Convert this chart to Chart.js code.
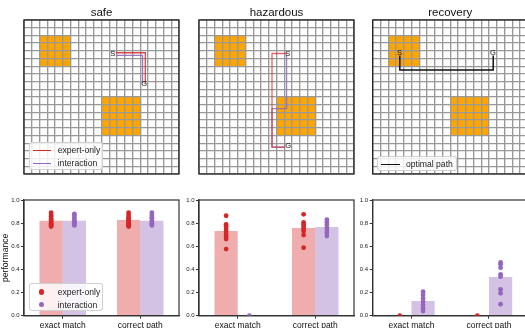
<!DOCTYPE html>
<html>
<head>
<meta charset="utf-8">
<script src="https://cdn.jsdelivr.net/npm/chart.js@4.4.1/dist/chart.umd.min.js"></script>
<style>
html, body { margin: 0; padding: 0; background: #fff; }
body { position: relative; width: 525px; height: 328px; overflow: hidden; font-family: 'Liberation Sans', Arial, sans-serif; }
canvas { position: absolute; left: 0; top: 0; }
.legend { position: absolute; box-sizing: border-box; background: rgba(255,255,255,0.82); border: 1px solid rgba(204,204,204,0.9); border-radius: 3px; font-size: 8.6px; color: #222; }
.legend .mark { position: absolute; }
.legend .txt { position: absolute; white-space: nowrap; line-height: 10px; margin-top: -5px; }
</style>
</head>
<body>
<canvas id="g0" width="540" height="328"></canvas>
<canvas id="g1" width="540" height="328"></canvas>
<canvas id="g2" width="540" height="328"></canvas>
<canvas id="b0" width="540" height="328"></canvas>
<canvas id="b1" width="540" height="328"></canvas>
<canvas id="b2" width="540" height="328"></canvas>
<canvas id="d0" width="540" height="328"></canvas>
<canvas id="d1" width="540" height="328"></canvas>
<canvas id="d2" width="540" height="328"></canvas>

<script>
// ---- data ----
const scenarios = ['safe', 'hazardous', 'recovery'];
const seriesNames = ['expert-only', 'interaction'];
const optimalName = 'optimal path';

// 20x20 grid world, hazard blocks in cell units [x0, y0, x1, y1]
const gridCells = 20;
const hazardSmall = [2, 2, 6, 6];
const hazardLarge = [10, 10, 15, 15];

// paths (cell coords, y down)
const safeExpertPath = [[11.85, 4.25], [15.65, 4.25], [15.65, 8.2]];
const safeInteractionPath = [[11.85, 4.6], [15.3, 4.6], [15.3, 8.2]];
const hazExpertPath = [[11.3, 4.35], [9.42, 4.35], [9.42, 16.5], [11.1, 16.5]];
const hazInteractionPath = [[11.3, 4.5], [11.3, 11.5], [9.42, 11.5], [9.42, 16.5], [11.1, 16.5]];
const recoveryOptimalPath = [[3.5, 4.6], [3.5, 6.5], [15.55, 6.5], [15.55, 4.6]];

// start / goal markers
const safeMarks = [['S', 11.45, 4.4], ['G', 15.5, 8.3]];
const hazMarks = [['S', 11.45, 4.35], ['G', 11.5, 16.4]];
const recoveryMarks = [['S', 3.45, 4.3], ['G', 15.5, 4.3]];

// performance bars
const metrics = ['exact match', 'correct path'];
const yTicks = [0, 0.2, 0.4, 0.6, 0.8, 1.0];

const safeExpertMean = [0.82, 0.827];
const safeInteractionMean = [0.82, 0.82];
const safeExpertRuns = [
  [0.89, 0.87, 0.86, 0.84, 0.83, 0.82, 0.81, 0.80, 0.79, 0.78, 0.77],
  [0.89, 0.87, 0.85, 0.84, 0.83, 0.82, 0.81, 0.80, 0.79, 0.78, 0.77]
];
const safeInteractionRuns = [
  [0.88, 0.87, 0.85, 0.83, 0.82, 0.81, 0.80, 0.79, 0.78],
  [0.89, 0.87, 0.85, 0.84, 0.82, 0.81, 0.80, 0.79, 0.78]
];

const hazExpertMean = [0.732, 0.758];
const hazInteractionMean = [0.0, 0.767];
const hazExpertRuns = [
  [0.864, 0.79, 0.77, 0.75, 0.726, 0.70, 0.683, 0.663, 0.576],
  [0.876, 0.807, 0.79, 0.77, 0.75, 0.732, 0.697, 0.588]
];
const hazInteractionRuns = [
  [0.0],
  [0.83, 0.807, 0.786, 0.763, 0.74, 0.72, 0.689]
];

const recExpertMean = [0.0, 0.0];
const recInteractionMean = [0.127, 0.334];
const recExpertRuns = [[0.0], [0.0]];
const recInteractionRuns = [
  [0.207, 0.179, 0.15, 0.121, 0.092, 0.064, 0.04],
  [0.46, 0.444, 0.415, 0.358, 0.337, 0.228, 0.194, 0.099]
];

// ---- layout / style ----
const CW = 540, CH = 328;
const panelLeft = [24, 199, 372.7];
const panelW = 155;
const gridTop = 20, gridBottom = 174;
const barTop = 200, barBottom = 315.7;
const RED = '#d62728', PURPLE = '#9467bd';
const FONT = "'Liberation Sans', Arial, sans-serif";

Chart.defaults.font.family = FONT;
Chart.defaults.color = '#222';

const framePlugin = {
  id: 'frame',
  afterDraw(chart, args, opts) {
    const a = chart.chartArea, ctx = chart.ctx;
    ctx.save();
    ctx.strokeStyle = opts.color || '#333';
    ctx.lineWidth = opts.width || 1.2;
    ctx.strokeRect(a.left, a.top, a.right - a.left, a.bottom - a.top);
    ctx.restore();
  }
};

const hazardPlugin = {
  id: 'hazards',
  beforeDraw(chart, args, opts) {
    const xs = chart.scales.x, ys = chart.scales.y, ctx = chart.ctx;
    ctx.save();
    ctx.fillStyle = opts.color;
    (opts.blocks || []).forEach(([x0, y0, x1, y1]) => {
      const px0 = xs.getPixelForValue(x0), px1 = xs.getPixelForValue(x1);
      const py0 = ys.getPixelForValue(y0), py1 = ys.getPixelForValue(y1);
      ctx.fillRect(px0, py0, px1 - px0, py1 - py0);
    });
    ctx.restore();
  }
};

const markPlugin = {
  id: 'marks',
  afterDatasetsDraw(chart, args, opts) {
    const xs = chart.scales.x, ys = chart.scales.y, ctx = chart.ctx;
    ctx.save();
    ctx.font = '7.5px ' + FONT;
    ctx.fillStyle = '#111';
    ctx.textAlign = 'center';
    ctx.textBaseline = 'middle';
    (opts.items || []).forEach(([t, x, y]) => {
      ctx.fillText(t, xs.getPixelForValue(x), ys.getPixelForValue(y));
    });
    ctx.restore();
  }
};

function gridChart(id, i, paths, marks) {
  const L = panelLeft[i];
  new Chart(document.getElementById(id), {
    type: 'scatter',
    data: {
      datasets: paths.map(p => ({
        data: p.pts.map(([x, y]) => ({ x, y })),
        showLine: true,
        borderColor: p.color,
        borderWidth: p.width || 1.3,
        pointRadius: 0,
        fill: false
      }))
    },
    options: {
      responsive: false,
      animation: false,
      devicePixelRatio: 1,
      layout: { padding: { left: L, right: CW - L - panelW, top: 0, bottom: CH - gridBottom } },
      plugins: {
        legend: { display: false },
        tooltip: { enabled: false },
        title: { display: true, text: scenarios[i], color: '#111', font: { size: 11.5, weight: 'normal' }, padding: { top: 6.2, bottom: 0 } },
        hazards: { blocks: [hazardSmall, hazardLarge], color: '#ffa500' },
        marks: { items: marks },
        frame: { color: '#222', width: 1.3 }
      },
      scales: {
        x: {
          type: 'linear', min: 0, max: gridCells,
          ticks: { display: false, stepSize: 1, maxTicksLimit: 50, autoSkip: false },
          grid: { color: '#999', lineWidth: 1.35, drawTicks: false },
          border: { display: false },
          afterFit: s => { s.height = 0; }
        },
        y: {
          type: 'linear', min: 0, max: gridCells, reverse: true,
          ticks: { display: false, stepSize: 1, maxTicksLimit: 50, autoSkip: false },
          grid: { color: '#999', lineWidth: 1.35, drawTicks: false },
          border: { display: false },
          afterFit: s => { s.width = 0; }
        }
      }
    },
    plugins: [hazardPlugin, markPlugin, framePlugin]
  });
}

function barChart(id, i, expMean, intMean, yTitle) {
  const L = panelLeft[i];
  const yW = 24;
  new Chart(document.getElementById(id), {
    type: 'bar',
    data: {
      labels: metrics,
      datasets: [
        { label: seriesNames[0], data: expMean,
          backgroundColor: 'rgba(214,39,40,0.38)', categoryPercentage: 0.6, barPercentage: 1.0, borderWidth: 0 },
        { label: seriesNames[1], data: intMean,
          backgroundColor: 'rgba(148,103,189,0.4)', categoryPercentage: 0.6, barPercentage: 1.0, borderWidth: 0 }
      ]
    },
    options: {
      responsive: false,
      animation: false,
      devicePixelRatio: 1,
      layout: { padding: { left: L - yW, right: CW - L - panelW, top: barTop, bottom: 0 } },
      plugins: {
        legend: { display: false },
        tooltip: { enabled: false },
        frame: { color: '#333', width: 1.2 }
      },
      scales: {
        x: {
          type: 'category', offset: true,
          ticks: { color: '#111', font: { size: 8.5 }, padding: 1.5, maxRotation: 0 },
          grid: { offset: false, drawOnChartArea: false, drawTicks: true, tickLength: 3, color: '#333' },
          border: { color: '#333', width: 1.2 },
          afterFit: s => { s.height = CH - barBottom; }
        },
        y: {
          min: 0, max: 1,
          afterBuildTicks: s => { s.ticks = yTicks.map(v => ({ value: v })); },
          ticks: { color: '#222', font: { size: 6 }, padding: 1.5, callback: v => Number(v).toFixed(1) },
          grid: { drawOnChartArea: false, drawTicks: true, tickLength: 3, color: '#333' },
          border: { color: '#333', width: 1.2 },
          title: { display: !!yTitle, text: yTitle || '', color: '#111', font: { size: 8.6 }, padding: { top: 0, bottom: 0 } },
          afterFit: s => { s.width = yW; }
        }
      }
    },
    plugins: [framePlugin]
  });
}

// individual runs, drawn on an overlay with the same plot area as the bars
const barShift = 0.15;   // half bar width in category units
function runPoints(runs, sign) {
  return runs.flatMap((vals, c) => vals.map(v => ({ x: c + sign * barShift, y: v })));
}

function dotChart(id, i, expRuns, intRuns) {
  const L = panelLeft[i];
  new Chart(document.getElementById(id), {
    type: 'scatter',
    data: {
      datasets: [
        { label: seriesNames[0], data: runPoints(expRuns, -1), pointRadius: 2.4, pointBackgroundColor: RED, pointBorderWidth: 0, borderWidth: 0 },
        { label: seriesNames[1], data: runPoints(intRuns, 1), pointRadius: 2.4, pointBackgroundColor: PURPLE, pointBorderWidth: 0, borderWidth: 0 }
      ]
    },
    options: {
      responsive: false,
      animation: false,
      devicePixelRatio: 1,
      layout: { padding: { left: L, right: CW - L - panelW, top: barTop, bottom: CH - barBottom } },
      plugins: { legend: { display: false }, tooltip: { enabled: false } },
      scales: {
        x: { type: 'linear', display: false, offset: false, min: -0.5, max: metrics.length - 0.5 },
        y: { type: 'linear', display: false, min: 0, max: 1 }
      }
    }
  });
}

gridChart('g0', 0, [
  { pts: safeExpertPath, color: 'rgba(214,39,40,0.85)' },
  { pts: safeInteractionPath, color: 'rgba(148,103,189,0.9)' }
], safeMarks);
gridChart('g1', 1, [
  { pts: hazExpertPath, color: 'rgba(214,39,40,0.7)' },
  { pts: hazInteractionPath, color: 'rgba(148,103,189,0.85)' }
], hazMarks);
gridChart('g2', 2, [
  { pts: recoveryOptimalPath, color: '#111', width: 1.5 }
], recoveryMarks);

barChart('b0', 0, safeExpertMean, safeInteractionMean, 'performance');
barChart('b1', 1, hazExpertMean, hazInteractionMean);
barChart('b2', 2, recExpertMean, recInteractionMean);

dotChart('d0', 0, safeExpertRuns, safeInteractionRuns);
dotChart('d1', 1, hazExpertRuns, hazInteractionRuns);
dotChart('d2', 2, recExpertRuns, recInteractionRuns);

// ---- legends (html, drawn over the plot areas) ----
function addLegend(box, items) {
  const d = document.createElement('div');
  d.className = 'legend';
  Object.assign(d.style, { left: box[0] + 'px', top: box[1] + 'px', width: box[2] + 'px', height: box[3] + 'px' });
  items.forEach(it => {
    const m = document.createElement('div');
    m.className = 'mark';
    if (it.kind === 'line') {
      Object.assign(m.style, { left: '3px', top: (it.y - 0.75) + 'px', width: '18.3px', height: '1.5px', background: it.color });
    } else {
      Object.assign(m.style, { left: '9.4px', top: (it.y - 2.6) + 'px', width: '5.2px', height: '5.2px', borderRadius: '50%', background: it.color });
    }
    d.appendChild(m);
    const t = document.createElement('div');
    t.className = 'txt';
    t.textContent = it.label;
    Object.assign(t.style, { left: it.tx + 'px', top: it.y + 'px' });
    d.appendChild(t);
  });
  document.body.appendChild(d);
}

addLegend([28.7, 141.7, 74.6, 28], [
  { kind: 'line', color: RED, label: seriesNames[0], y: 7.6, tx: 28 },
  { kind: 'line', color: PURPLE, label: seriesNames[1], y: 20.6, tx: 28 }
]);
addLegend([377.3, 156, 79.4, 14.5], [
  { kind: 'line', color: '#111', label: optimalName, y: 7.3, tx: 27.7 }
]);
addLegend([28.7, 282.7, 74.6, 28], [
  { kind: 'dot', color: RED, label: seriesNames[0], y: 8.3, tx: 28 },
  { kind: 'dot', color: PURPLE, label: seriesNames[1], y: 21, tx: 28 }
]);
</script>
</body>
</html>
